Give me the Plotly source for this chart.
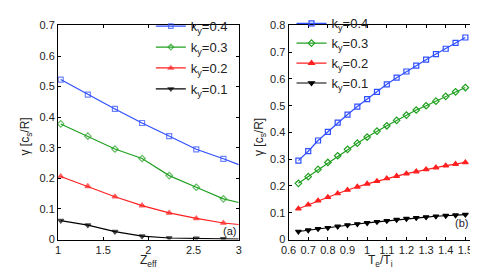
import plotly.graph_objects as go

# Panel (a): growth rate vs Zeff
zeff = [1.03, 1.33, 1.63, 1.93, 2.23, 2.53, 2.83, 3.0]
a_k04 = [0.523, 0.474, 0.427, 0.381, 0.338, 0.295, 0.264, 0.245]
a_k03 = [0.378, 0.338, 0.296, 0.265, 0.209, 0.171, 0.133, 0.121]
a_k02 = [0.206, 0.174, 0.140, 0.111, 0.087, 0.069, 0.054, 0.049]
a_k01 = [0.062, 0.047, 0.026, 0.011, 0.005, 0.004, 0.002, 0.001]

# Panel (b): growth rate vs Te/Ti
teti = [0.65, 0.70, 0.75, 0.80, 0.85, 0.90, 0.95, 1.00, 1.05,
        1.10, 1.15, 1.20, 1.25, 1.30, 1.35, 1.40, 1.45, 1.50]
b_k04 = [0.295, 0.330, 0.370, 0.402, 0.437, 0.467, 0.497, 0.525, 0.552,
         0.580, 0.605, 0.628, 0.650, 0.672, 0.693, 0.713, 0.735, 0.755]
b_k03 = [0.210, 0.235, 0.262, 0.288, 0.313, 0.337, 0.360, 0.383, 0.405,
         0.425, 0.445, 0.465, 0.484, 0.500, 0.517, 0.535, 0.552, 0.568]
b_k02 = [0.115, 0.130, 0.145, 0.158, 0.172, 0.185, 0.197, 0.208, 0.218,
         0.228, 0.237, 0.246, 0.254, 0.262, 0.269, 0.276, 0.282, 0.288]
b_k01 = [0.030, 0.035, 0.040, 0.044, 0.049, 0.054, 0.058, 0.062, 0.066,
         0.070, 0.074, 0.078, 0.081, 0.084, 0.087, 0.089, 0.091, 0.093]

labels = ["k<sub>y</sub>=0.4", "k<sub>y</sub>=0.3", "k<sub>y</sub>=0.2", "k<sub>y</sub>=0.1"]
colors = ["#3050ff", "#20a020", "#ff2020", "#000000"]
symbols = ["square-open", "diamond-open", "triangle-up", "triangle-down"]

fig = go.Figure()

a_series = [a_k04, a_k03, a_k02, a_k01]
for i, (lab, col, sym, ys) in enumerate(zip(labels, colors, symbols, a_series)):
    sizes = [5] * (len(zeff) - 1) + [0]
    fig.add_trace(go.Scatter(
        x=zeff, y=ys, mode="lines+markers", name=lab, legendgroup=f"a{i}",
        line=dict(color=col, width=1.2),
        marker=dict(symbol=sym, size=sizes, color=col, line=dict(color=col, width=1.2)),
        xaxis="x", yaxis="y", legend="legend"))

b_series = [b_k04, b_k03, b_k02, b_k01]
for i, (lab, col, sym, ys) in enumerate(zip(labels, colors, symbols, b_series)):
    fig.add_trace(go.Scatter(
        x=teti, y=ys, mode="lines+markers", name=lab, legendgroup=f"b{i}",
        line=dict(color=col, width=1.2),
        marker=dict(symbol=sym, size=5, color=col, line=dict(color=col, width=1.2)),
        xaxis="x2", yaxis="y2", legend="legend2"))

W, H = 478, 267
ydom = [1 - 236 / H, 1 - 11 / H]
axis_common = dict(showline=True, linecolor="black", linewidth=1, mirror="ticks",
                   ticks="inside", ticklen=3, tickcolor="black", showgrid=False,
                   zeroline=False, tickfont=dict(size=11, color="#222"))

fig.update_layout(
    width=W, height=H, margin=dict(l=0, r=0, t=0, b=0),
    paper_bgcolor="white", plot_bgcolor="white",
    font=dict(family="Liberation Sans, Arial, sans-serif", color="#222"),
    xaxis=dict(domain=[43 / W, 228 / W], range=[1, 3], tickvals=[1, 1.5, 2, 2.5, 3],
               ticktext=["1", "1.5", "2", "2.5", "3"], **axis_common),
    yaxis=dict(domain=ydom, range=[0, 0.7], tickvals=[0, 0.1, 0.2, 0.3, 0.4, 0.5, 0.6, 0.7],
               ticktext=["0", "0.1", "0.2", "0.3", "0.4", "0.5", "0.6", "0.7"],
               **axis_common),
    xaxis2=dict(domain=[279 / W, 468 / W], range=[0.6, 1.54], anchor="y2",
                tickvals=[0.6, 0.7, 0.8, 0.9, 1.0, 1.1, 1.2, 1.3, 1.4, 1.5],
                ticktext=["0.6", "0.7", "0.8", "0.9", "1", "1.1", "1.2", "1.3", "1.4", "1.5"],
                **axis_common),
    yaxis2=dict(domain=ydom, range=[0, 0.8], anchor="x2",
                tickvals=[0, 0.1, 0.2, 0.3, 0.4, 0.5, 0.6, 0.7, 0.8],
                ticktext=["0", "0.1", "0.2", "0.3", "0.4", "0.5", "0.6", "0.7", "0.8"],
                **axis_common),
    legend=dict(x=138 / W, y=1 + 4 / H, xanchor="left", yanchor="top",
                bgcolor="rgba(0,0,0,0)", font=dict(size=13), itemwidth=30,
                tracegroupgap=1),
    legend2=dict(x=282 / W, y=1 + 7 / H, xanchor="left", yanchor="top",
                 bgcolor="rgba(0,0,0,0)", font=dict(size=13), itemwidth=30,
                 tracegroupgap=0),
    annotations=[
        dict(text="Z<sub>eff</sub>", x=135.5 / W, y=0, xref="paper", yref="paper",
             xanchor="center", yanchor="bottom", showarrow=False,
             font=dict(size=12), yshift=-2),
        dict(text="T<sub>e</sub>/T<sub>i</sub>", x=373 / W, y=0, xref="paper", yref="paper",
             xanchor="center", yanchor="bottom", showarrow=False,
             font=dict(size=12), yshift=-2),
        dict(text="γ [c<sub>s</sub>/R]", x=10 / W, y=1 - 128 / H, xref="paper", yref="paper",
             xanchor="center", yanchor="middle", textangle=-90, showarrow=False,
             font=dict(size=12)),
        dict(text="γ [c<sub>s</sub>/R]", x=250 / W, y=1 - 128 / H, xref="paper", yref="paper",
             xanchor="center", yanchor="middle", textangle=-90, showarrow=False,
             font=dict(size=12)),
        dict(text="(a)", x=3, y=0, xref="x", yref="y", xanchor="right", yanchor="bottom",
             showarrow=False, font=dict(size=11), xshift=-1, yshift=1),
        dict(text="(b)", x=1.54, y=0, xref="x2", yref="y2", xanchor="right", yanchor="bottom",
             showarrow=False, font=dict(size=11), xshift=-3, yshift=9),
    ],
)

fig.write_html("out.html")
